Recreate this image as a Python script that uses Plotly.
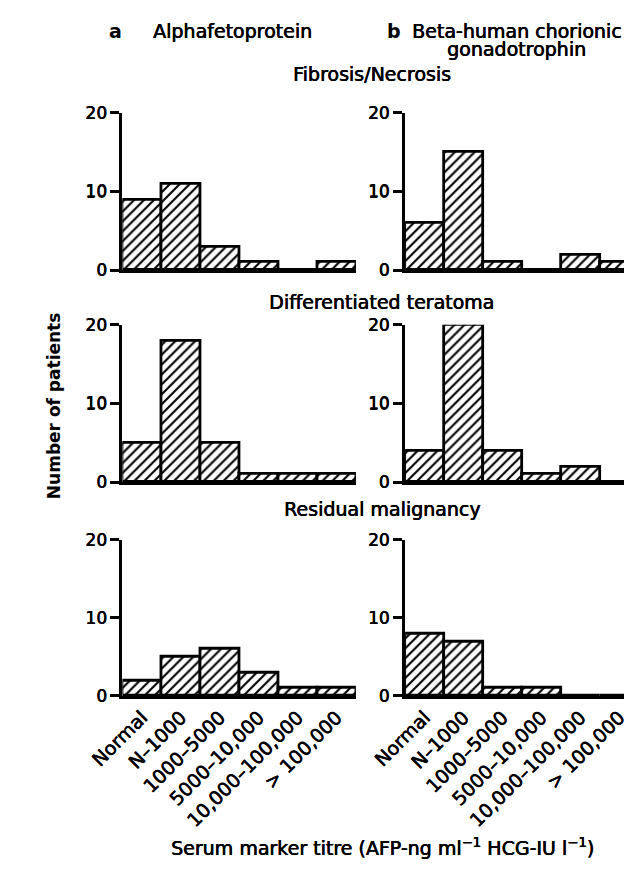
import plotly.graph_objects as go

categories = ["Normal", "N–1000", "1000–5000", "5000–10,000", "10,000–100,000", "> 100,000"]
afp_fibrosis = [9, 11, 3, 1, 0, 1]
hcg_fibrosis = [6, 15, 1, 0, 2, 1]
afp_teratoma = [5, 18, 5, 1, 1, 1]
hcg_teratoma = [4, 20, 4, 1, 2, 0]
afp_malignancy = [2, 5, 6, 3, 1, 1]
hcg_malignancy = [8, 7, 1, 1, 0, 0]
y_ticks = [0, 10, 20]

# page is 632x873; the html body adds an 8px margin, so the figure is 8px smaller
OFF = 8
W, H = 632 - OFF, 873 - OFF
FONT = "DejaVu Sans"
HEAVY = "0.5px 0px 0px black, 0px 0.3px 0px black"


def fx(px):
    return (px - OFF) / W


def fy(py):
    return 1 - (py - OFF) / H


panels = [
    (afp_fibrosis, 0, 0), (hcg_fibrosis, 0, 1),
    (afp_teratoma, 1, 0), (hcg_teratoma, 1, 1),
    (afp_malignancy, 2, 0), (hcg_malignancy, 2, 1),
]
row_px = [(105, 266), (322, 483), (542, 702)]
col_px = [(93, 340), (392, 632)]
bar_px = (340 - 93) / 6.0

fig = go.Figure()
layout = dict(
    width=W, height=H, autosize=False,
    margin=dict(l=0, r=0, t=0, b=0),
    paper_bgcolor="white", plot_bgcolor="white",
    showlegend=False, bargap=0,
    font=dict(family=FONT, color="black"),
)

for i, (vals, r, c) in enumerate(panels, start=1):
    xa = "x" if i == 1 else f"x{i}"
    ya = "y" if i == 1 else f"y{i}"
    fig.add_trace(go.Bar(
        x=categories, y=vals, xaxis=xa, yaxis=ya,
        marker=dict(
            color="white",
            line=dict(color="black", width=2.8),
            pattern=dict(shape="/", fgcolor="black", bgcolor="white",
                         size=7, solidity=0.3, fillmode="replace"),
        ),
        hoverinfo="skip",
    ))
    x0, x1 = col_px[c]
    top, bot = row_px[r]
    span = (x1 - x0) / bar_px
    layout["xaxis" if i == 1 else f"xaxis{i}"] = dict(
        domain=[fx(x0), min(1.0, fx(x1))], anchor=ya,
        range=[-0.5, -0.5 + span], type="category",
        showline=True, linewidth=3, linecolor="black",
        ticks="", showgrid=False, zeroline=False,
        showticklabels=(r == 2), tickangle=-45,
        tickfont=dict(size=19, family=FONT, color="black", shadow=HEAVY),
    )
    layout["yaxis" if i == 1 else f"yaxis{i}"] = dict(
        domain=[fy(bot), fy(top)], anchor=xa,
        range=[0, 20], tickvals=y_ticks,
        showline=True, linewidth=3, linecolor="black",
        ticks="outside", ticklen=9, tickwidth=3, tickcolor="black",
        showgrid=False, zeroline=False,
        tickfont=dict(size=17, family=FONT, color="black", shadow=HEAVY),
    )

fig.update_layout(**layout)

ann = []


def add(text, x, y, size=19, bold=False, xanchor="left", angle=0):
    t = f"<b>{text}</b>" if bold else text
    ann.append(dict(text=t, x=fx(x), y=fy(y), xref="paper", yref="paper",
                    xanchor=xanchor, yanchor="middle", showarrow=False,
                    textangle=angle,
                    font=dict(size=size, family=FONT, color="black",
                              shadow="none" if bold else HEAVY)))


add("a", 86, 21, bold=True, xanchor="center")
add("Alphafetoprotein", 123, 21)
add("b", 380, 21, bold=True, xanchor="center")
add("Beta-human chorionic", 397, 21)
add("gonadotrophin", 510, 40, xanchor="center")
add("Fibrosis/Necrosis", 357, 65, xanchor="center")
add("Differentiated teratoma", 367, 299, xanchor="center")
add("Residual malignancy", 368, 511, xanchor="center")
add("Number of patients", 20, 405, size=17, bold=True, xanchor="center", angle=-90)
add("Serum marker titre (AFP-ng ml<sup>−1</sup> HCG-IU l<sup>−1</sup>)", 142, 857)

fig.update_layout(annotations=ann)
fig.write_html("out.html")
